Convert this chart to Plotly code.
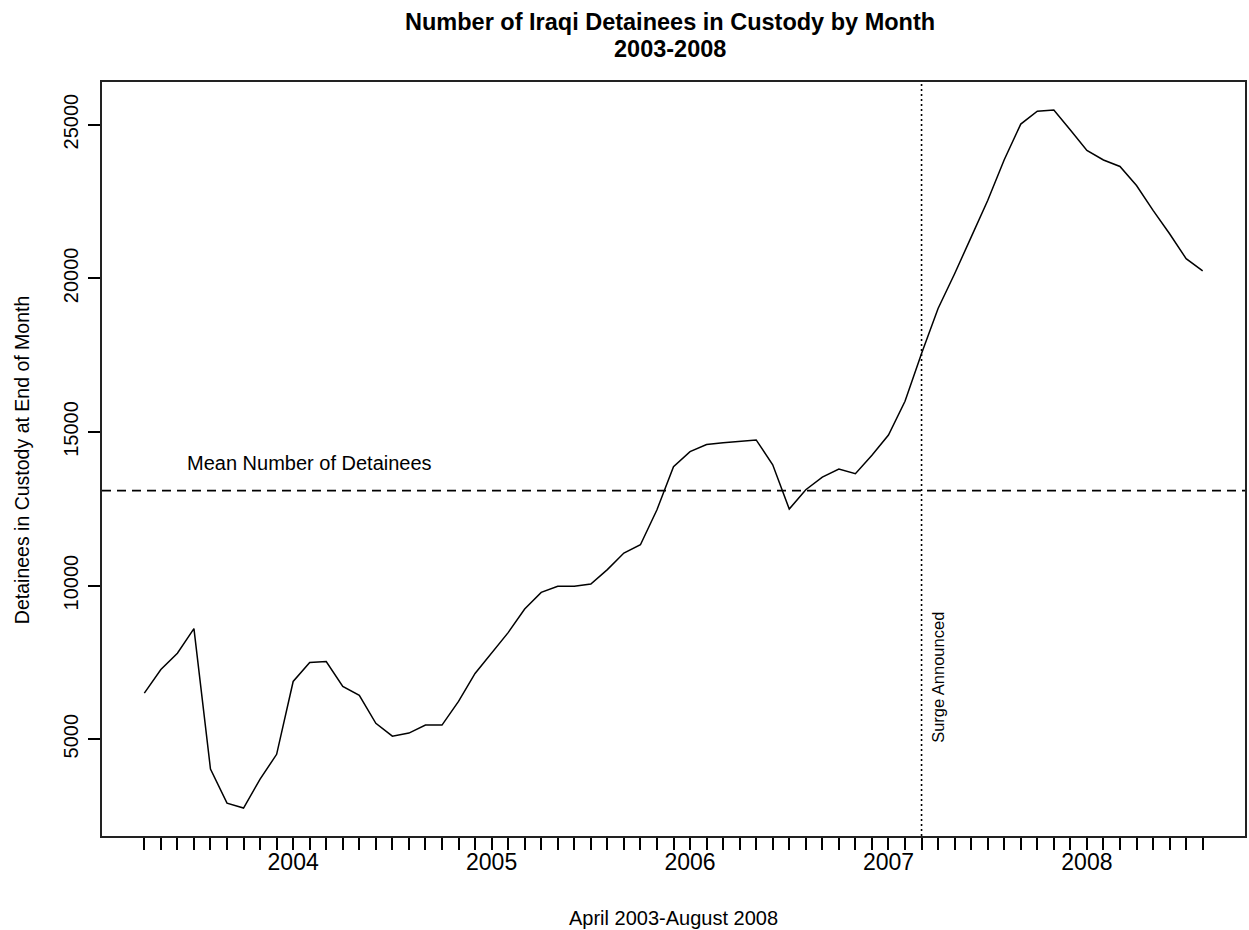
import numpy as np
import plotly.graph_objects as go

# Monthly detainee counts, April 2003 - August 2008 (65 months)
detainees = [
    6500, 7270, 7800, 8600, 4030, 2920, 2760, 3700, 4510,          # Apr-Dec 2003
    6880, 7500, 7530, 6720, 6430, 5520, 5100, 5200, 5460, 5460, 6230, 7140,   # 2004
    7800, 8470, 9240, 9780, 9980, 9980, 10050, 10520, 11060, 11330, 12470, 13870,  # 2005
    14360, 14590, 14650, 14690, 14740, 13930, 12490, 13120, 13530, 13790, 13640, 14240,  # 2006
    14900, 16000, 17550, 19020, 20150, 21340, 22530, 23860, 25020, 25440, 25480, 24830,  # 2007
    24160, 23850, 23640, 23020, 22210, 21450, 20640, 20240,        # Jan-Aug 2008
]
month_index = list(range(len(detainees)))

year_labels = ["2004", "2005", "2006", "2007", "2008"]
year_label_index = [9, 21, 33, 45, 57]

y_tick_values = [5000, 10000, 15000, 20000, 25000]

surge_index = 47
surge_label = "Surge Announced"
surge_label_pos = (48, 7000)

mean_label = "Mean Number of Detainees"
mean_label_pos = (10, 14000)

title_line1 = "Number of Iraqi Detainees in Custody by Month"
title_line2 = "2003-2008"
x_title = "April 2003-August 2008"
y_title = "Detainees in Custody at End of Month"

mean_value = float(np.mean(detainees))

# R-style 4% axis extension
xr = [min(month_index), max(month_index)]
xext = 0.04 * (xr[1] - xr[0])
x_range = [xr[0] - xext, xr[1] + xext]
yr = [min(detainees), max(detainees)]
yext = 0.04 * (yr[1] - yr[0])
y_range = [yr[0] - yext, yr[1] + yext]

tick_text = [""] * len(month_index)
for lab, idx in zip(year_labels, year_label_index):
    tick_text[idx] = lab

W, H = 1249, 930
L, R, T, B = 102, 2, 82, 94
pw, ph = W - L - R, H - T - B

def px_x(p):
    return (p - L) / pw

def px_y(p):
    return (H - B - p) / ph

FONT = "Liberation Sans, Arial, sans-serif"

fig = go.Figure()

fig.add_trace(go.Scatter(
    x=month_index, y=detainees, mode="lines",
    line=dict(color="black", width=1.5),
    showlegend=False, hoverinfo="x+y",
))

# mean line
fig.add_shape(type="line", xref="paper", yref="y", x0=0, x1=1,
              y0=mean_value, y1=mean_value,
              line=dict(color="black", width=1.8, dash="9px,6px"))
# surge line
fig.add_shape(type="line", xref="x", yref="paper", x0=surge_index, x1=surge_index,
              y0=0, y1=1, line=dict(color="black", width=1.6, dash="2px,3px"))

def ann(text, x, y, xref, yref, size, angle=0):
    return dict(text=text, x=x, y=y, xref=xref, yref=yref, showarrow=False,
                xanchor="center", yanchor="middle", textangle=angle,
                font=dict(family=FONT, size=size, color="black"))

annotations = [
    ann(mean_label, mean_label_pos[0], mean_label_pos[1], "x", "y", 20),
    ann(surge_label, surge_label_pos[0], surge_label_pos[1], "x", "y", 16.5, -90),
    ann("<b>" + title_line1 + "</b>", px_x(671), px_y(22), "paper", "paper", 23.5),
    ann("<b>" + title_line2 + "</b>", px_x(671), px_y(49), "paper", "paper", 23.5),
    ann(x_title, px_x(674), px_y(918), "paper", "paper", 20),
    ann(y_title, px_x(22), px_y(460), "paper", "paper", 19.5, -90),
]

fig.update_layout(
    width=W, height=H,
    margin=dict(l=L, r=R, t=T, b=B, pad=0),
    paper_bgcolor="white", plot_bgcolor="white",
    annotations=annotations,
    showlegend=False,
)

fig.update_xaxes(
    range=x_range, tickmode="array", tickvals=month_index, ticktext=tick_text,
    ticks="outside", ticklen=12, tickwidth=1.5, tickcolor="black",
    showline=True, mirror=True, linecolor="#222", linewidth=1.5,
    showgrid=False, zeroline=False, ticklabelstandoff=-7,
    tickfont=dict(family=FONT, size=23, color="black"),
)
fig.update_yaxes(
    range=y_range, tickmode="array", tickvals=y_tick_values,
    ticktext=[str(v) for v in y_tick_values], tickangle=-90,
    ticks="outside", ticklen=12, tickwidth=1.5, tickcolor="black",
    showline=True, mirror=True, linecolor="#222", linewidth=1.5,
    showgrid=False, zeroline=False, ticklabelstandoff=2,
    tickfont=dict(family=FONT, size=20, color="black"),
)

fig.write_html("out.html", config={"displayModeBar": False},
               post_script="document.body.style.margin='0px';document.body.style.overflow='hidden';")
